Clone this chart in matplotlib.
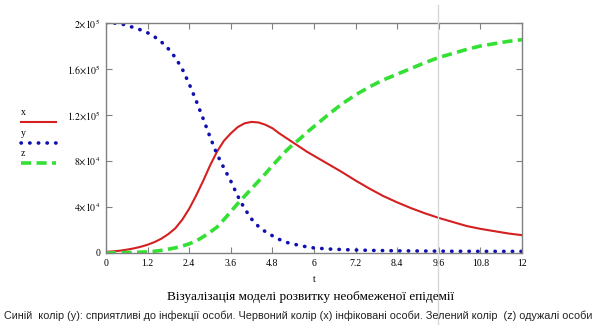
import numpy as np
import matplotlib
matplotlib.use('Agg')
import matplotlib.pyplot as plt
from matplotlib.lines import Line2D

plt.rcParams['font.family'] = 'Liberation Serif'
plt.rcParams['mathtext.fontset'] = 'stix'

# %% data (t in model time units)
t = [0, 0.2, 0.4, 0.6, 0.8, 1.0, 1.2, 1.4, 1.6, 1.8, 2.0, 2.2, 2.4, 2.6, 2.8, 3.0,
     3.2, 3.4, 3.6, 3.8, 4.0, 4.2, 4.4, 4.6, 4.8, 5.0, 5.2, 5.4, 5.6, 5.8, 6.0,
     6.4, 6.8, 7.2, 7.6, 8.0, 8.4, 8.8, 9.2, 9.6, 10.0, 10.4, 10.8, 11.2, 11.6, 12.0]

# infected (red)
x = [1000, 1400, 2000, 2900, 4000, 5400, 7200, 9500, 12500, 16500, 21500, 29000,
     38500, 50000, 62500, 76000, 88000, 97500, 104000, 109500, 112800, 114000,
     113500, 111500, 108500, 104000, 100000, 96000, 92000, 88000, 84500,
     77500, 70500, 63000, 56000, 49500, 44000, 39000, 34500, 30500, 27000, 23500,
     21000, 19000, 17000, 15500]

# susceptible (blue)
y = [200000, 200000, 199500, 198000, 196000, 194000, 191500, 188000, 183500, 177500,
     170000, 160000, 147000, 132500, 117000, 101000, 86000, 74000, 62500, 49500,
     38500, 29500, 23000, 18500, 15000, 11800, 9300, 7800, 6500, 5300, 4400,
     3500, 3000, 2600, 2300, 2100, 1900, 1800, 1700, 1600, 1500, 1500, 1400, 1400,
     1400, 1400]

# recovered (green)
z = [0, 100, 200, 350, 500, 700, 1000, 1500, 2300, 3300, 4500, 6000, 8000, 10500,
     14000, 18000, 22500, 29000, 36000, 43000, 49500, 56000, 62500, 69000, 76000,
     82500, 89000, 94500, 99500, 105000, 110000,
     120000, 129500, 137500, 144500, 150500, 155500, 160500, 165500, 170000, 173500,
     177000, 180000, 182000, 184000, 185500]

xticks = [0, 1.2, 2.4, 3.6, 4.8, 6, 7.2, 8.4, 9.6, 10.8, 12]
xtick_labels = ['0', '1.2', '2.4', '3.6', '4.8', '6', '7.2', '8.4', '9.6', '10.8', '12']
yticks = [0, 40000, 80000, 120000, 160000, 200000]
ytick_labels = ['0', r'$4{\times}10^4$', r'$8{\times}10^4$', r'$1.2{\times}10^5$',
                r'$1.6{\times}10^5$', r'$2{\times}10^5$']

title = 'Візуалізація моделі розвитку необмеженої епідемії'
caption = ('Синій  колір (y): сприятливі до інфекції особи. Червоний колір (x) '
           'інфіковані особи. Зелений колір  (z) одужалі особи')

red = '#d42020'
blue = '#1010b0'
green = '#33e033'

# %% plot
W, H = 604, 325
fig = plt.figure(figsize=(W / 100, H / 100), dpi=100)
ax = fig.add_axes([106 / W, 1 - 253 / H, 416 / W, 230 / H])

ax.plot(t, x, color=red, lw=1.5)
ax.plot(t, y, color=blue, lw=2.6, linestyle=(0, (0.1, 2.3)), dash_capstyle='round')
ax.plot(t, z, color=green, lw=2.6, linestyle=(0, (2.8, 1.5)), dash_capstyle='butt')

ax.set_xlim(0, 12)
ax.set_ylim(0, 200000)
ax.set_xticks(xticks)
ax.set_xticklabels(xtick_labels)
ax.set_yticks(yticks)
ax.set_yticklabels(ytick_labels)
ax.tick_params(direction='in', top=True, right=True, length=4, width=0.8,
               color='#808080', labelsize=7, pad=4)
for sp in ax.spines.values():
    sp.set_color('#808080')
    sp.set_linewidth(1.0)
ax.set_xlabel('t', fontsize=7, labelpad=5)

# legend on the left, labels above line samples
def px(xp, yp):
    return xp / W, 1 - yp / H

for lab, yl, kw in [('x', 122, dict(color=red, lw=1.5)),
                    ('y', 143, dict(color=blue, lw=2.6, linestyle=(0, (0.1, 2.3)),
                                    dash_capstyle='round')),
                    ('z', 163, dict(color=green, lw=2.6, linestyle=(0, (2.8, 1.5))))]:
    fig.text(*px(21, yl - 5), lab, fontsize=7, va='bottom', ha='left')
    (x0, y0), (x1, _) = px(21, yl), px(56, yl)
    fig.add_artist(Line2D([x0, x1], [y0, y0], **kw))

# grey vertical line across the page
fig.add_artist(Line2D([438 / W, 438 / W], [0, 1 - 5 / H], color='#d8d8d8', lw=1.0))

fig.text(*px(311, 297), title, fontsize=9.5, ha='center', va='center')
fig.text(*px(4, 316), caption, fontsize=7.8, ha='left', va='center',
         family='Liberation Sans', color='#222222')

fig.savefig('out.png', dpi=100)
